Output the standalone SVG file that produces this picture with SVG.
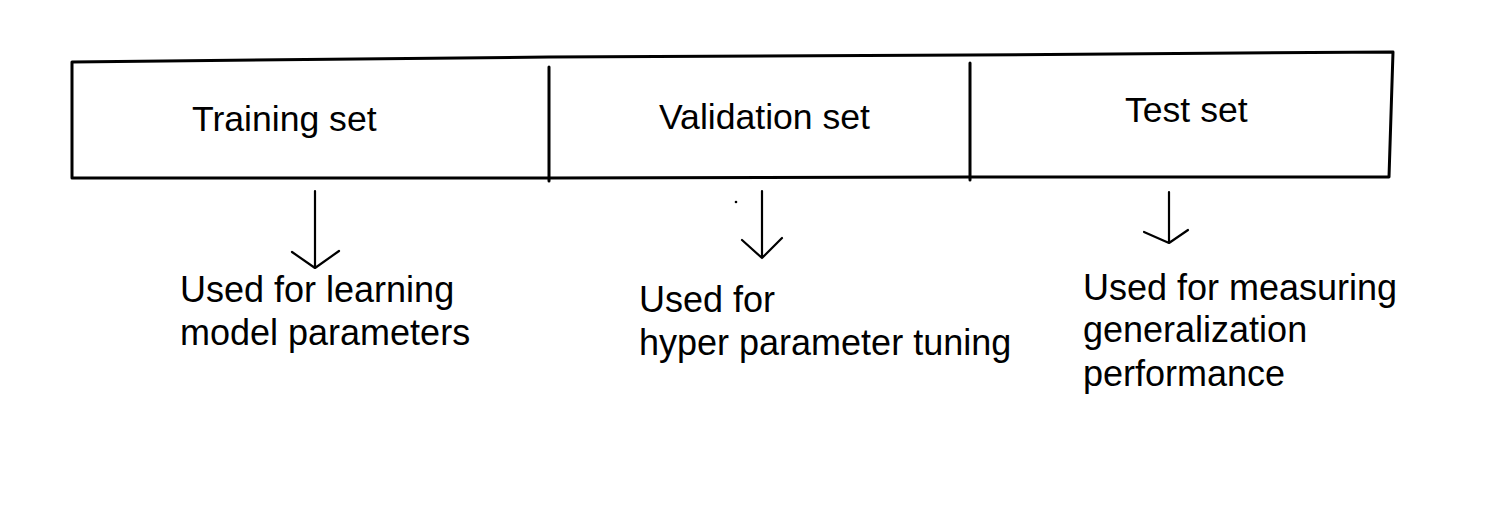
<svg xmlns="http://www.w3.org/2000/svg" width="1486" height="516" viewBox="0 0 1486 516">
<style>
.ln{fill:none;stroke:#000;stroke-width:3;stroke-linecap:round;stroke-linejoin:round}
.ar{fill:none;stroke:#000;stroke-width:2.2;stroke-linecap:round;stroke-linejoin:round}
text{font-family:"Liberation Sans",Arial,sans-serif;fill:#000}
.lbl{font-size:35.6px}
.note{font-size:36px}
</style>
<rect width="1486" height="516" fill="#fff"/>
<g id="split-bar">
<path class="ln" d="M72,62 L549,57 L970,55 L1393,52 L1389,177 L970,177 L549,178 L72,178 Z"/>
</g>
<g id="training">
<path class="ln" d="M549,67 L549,181"/>
<text class="lbl" x="192" y="131">Training set</text>
</g>
<g id="validation">
<path class="ln" d="M970,63 L970,180"/>
<text class="lbl" x="659" y="129">Validation set</text>
</g>
<g id="test">
<text class="lbl" x="1125" y="122">Test set</text>
</g>
<g id="connectors">
<path class="ar" d="M315,191 L315,268 M292,252 L315,268 L339,251"/>
<path class="ar" d="M762,191 L762,258 M742,240 L762,258 L782,238"/>
<path class="ar" d="M1169,192 L1169,243 M1144,232 L1169,243 L1188,230"/>
<circle cx="736" cy="202" r="1.3" fill="#000"/>
</g>
<g id="note-training">
<text class="note" x="180" y="302">Used for learning</text>
<text class="note" x="180" y="345">model parameters</text>
</g>
<g id="note-validation">
<text class="note" x="639" y="312">Used for</text>
<text class="note" x="639" y="355">hyper parameter tuning</text>
</g>
<g id="note-test">
<text class="note" x="1083" y="300">Used for measuring</text>
<text class="note" x="1083" y="342">generalization</text>
<text class="note" x="1083" y="386">performance</text>
</g>
</svg>
